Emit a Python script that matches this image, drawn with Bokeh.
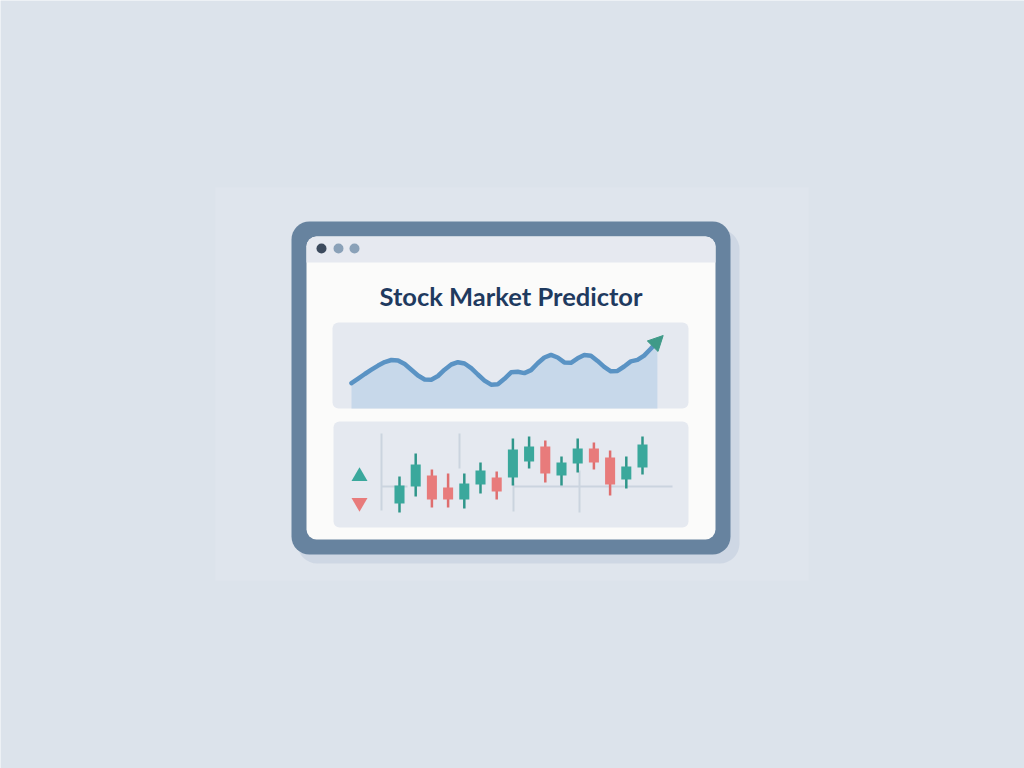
from bokeh.plotting import figure
from bokeh.models import Range1d, Arrow, NormalHead
from bokeh.core.properties import value
from bokeh.embed import file_html
from bokeh.resources import INLINE

# ---------------- data ----------------
title_text = "Stock Market Predictor"

# trend line (index -> value)
trend_values = [27.3, 31.8, 36.5, 40.8, 44.9, 48.4, 50.5, 50.1, 46.5, 40.8, 35.0, 31.0,
                30.8, 34.5, 40.8, 46.0, 48.3, 47.0, 42.4, 36.0, 29.9, 25.8, 26.2, 31.7,
                38.2, 38.8, 37.4, 40.4, 47.2, 53.0, 55.6, 53.0, 48.1, 47.7, 52.2, 55.6,
                54.8, 49.6, 43.6, 39.2, 39.6, 44.0, 49.1, 50.6, 54.9, 61.7, 69.1]
trend_target = 75.0   # arrow tip value
trend_target_step = 0.87

# candlesticks
c_open  = [108.5, 117.0, 122.5, 116.5, 110.5, 118.0, 121.5, 121.5, 129.5, 137.0, 122.5, 128.5, 136.0, 131.5, 120.5, 126.5]
c_close = [117.5, 128.0, 110.5, 110.5, 118.5, 125.0, 114.5, 135.5, 137.0, 123.5, 129.0, 136.0, 129.0, 118.0, 127.0, 138.0]
c_high  = [122.0, 133.5, 125.5, 123.5, 123.5, 129.0, 124.5, 141.0, 142.0, 140.0, 132.0, 141.0, 139.0, 135.0, 132.0, 142.0]
c_low   = [104.0, 112.0, 106.5, 106.5, 106.0, 113.5, 110.5, 117.5, 126.0, 119.0, 117.5, 124.0, 125.5, 112.5, 116.0, 123.0]

# ---------------- styles ----------------
BG = "#dce3eb"
FRAME = "#67839f"
INNER = "#fbfbfa"
TOPBAR = "#e6e9f0"
PANEL = "#e5e9f0"
LINE = "#5a93c4"
AREA = "#c7d8ea"
UP = "#3aa89c"
UP_WICK = "#2f968a"
DOWN = "#e87b7b"
DOWN_WICK = "#df6e6e"
GRID = "#cbd4df"
TITLE = "#1f3a5f"

W, H = 1024, 768
PX0, PX1 = 0, W      # screen x of frame
PY0, PY1 = 0, H      # screen y of frame


def lin_range(d0, d1, p0, p1, a, b):
    """Range1d whose data d0 sits at screen pixel p0 and d1 at p1; frame edge a is start, b is end."""
    k = (d1 - d0) / (p1 - p0)
    return Range1d(d0 + (a - p0) * k, d0 + (b - p0) * k)


p = figure(width=W, height=H, output_backend="svg", toolbar_location=None,
           x_axis_location=None, y_axis_location=None, min_border=0,
           x_range=Range1d(PX0, PX1), y_range=Range1d(PY1, PY0))
p.grid.visible = False
p.outline_line_color = None
p.background_fill_color = BG
p.border_fill_color = BG

# faint backdrop square
p.quad(left=215, right=808, top=187, bottom=580, fill_color="#dfe5ed", line_color=None)
# device shadow
p.quad(left=297, right=739, top=229, bottom=563, fill_color="#c9d3e1", fill_alpha=0.8,
       line_color=None, border_radius=20)
# device frame
p.quad(left=291, right=730, top=221, bottom=554, fill_color=FRAME, line_color=None, border_radius=18)
# screen
p.quad(left=306, right=715, top=236, bottom=539, fill_color=INNER, line_color=None, border_radius=10)
p.quad(left=306, right=715, top=236, bottom=262, fill_color=TOPBAR, line_color=None,
       border_radius=(10, 10, 0, 0))
# window dots
p.scatter(x=[321, 338, 354], y=[248, 248, 248], size=10,
          fill_color=["#3c4a5d", "#8aa1b8", "#8aa1b8"], line_color=None)

# title
p.text(x=[510.5], y=[295.5], text=[title_text], text_font=value("Lato"), text_font_style="bold",
       text_font_size="25.5px", text_color=TITLE, text_align="center", text_baseline="middle")

# panels
p.quad(left=332, right=688, top=322, bottom=408, fill_color=PANEL, line_color=None, border_radius=6)
p.quad(left=333, right=688, top=421, bottom=527, fill_color=PANEL, line_color=None, border_radius=6)

# ---------------- trend line (own ranges) ----------------
n = len(trend_values)
idx = list(range(n))
p.extra_x_ranges["tx"] = lin_range(0, n - 1, 351, 656.9, PX0, PX1)
p.extra_y_ranges["ty"] = lin_range(0, 100, 410, 310, PY1, PY0)
base = 410 - 408  # panel bottom in trend units
p.varea(x=idx, y1=trend_values, y2=[base] * n, fill_color=AREA, x_range_name="tx", y_range_name="ty")
p.line(x=idx, y=trend_values, line_color=LINE, line_width=4.5, line_cap="round", line_join="round",
       x_range_name="tx", y_range_name="ty")
p.add_layout(Arrow(x_start=n - 1, y_start=trend_values[-1], x_end=n - 1 + trend_target_step, y_end=trend_target,
                   line_color=LINE, line_width=4.5,
                   end=NormalHead(size=15, fill_color="#3f9a88", line_color="#3f9a88"),
                   x_range_name="tx", y_range_name="ty"))

# ---------------- candlesticks (own ranges) ----------------
m = len(c_open)
cx = list(range(m))
p.extra_x_ranges["cx"] = lin_range(0, m - 1, 399, 642, PX0, PX1)
p.extra_y_ranges["cy"] = lin_range(100, 150, 520, 420, PY1, PY0)

# decorative grid lines (screen coordinates)
p.segment(x0=[381, 459, 513, 579, 381, 513], y0=[433, 433, 483, 470, 486, 486],
          x1=[381, 459, 513, 579, 407, 672], y1=[510, 468, 511, 512, 486, 486],
          line_color=GRID, line_width=2)

up = [c >= o for o, c in zip(c_open, c_close)]
wick_col = [UP_WICK if u else DOWN_WICK for u in up]
body_col = [UP if u else DOWN for u in up]
p.segment(x0=cx, y0=c_low, x1=cx, y1=c_high, line_color=wick_col, line_width=2.5,
          x_range_name="cx", y_range_name="cy")
p.vbar(x=cx, width=0.62, top=[max(o, c) for o, c in zip(c_open, c_close)],
       bottom=[min(o, c) for o, c in zip(c_open, c_close)], fill_color=body_col, line_color=None,
       x_range_name="cx", y_range_name="cy")

# legend triangles
p.scatter(x=[359], y=[476], marker="triangle", size=16, fill_color=UP, line_color=None)
p.scatter(x=[359], y=[502], marker="inverted_triangle", size=16, fill_color=DOWN, line_color=None)

open("out.html", "w").write(file_html(p, INLINE))
